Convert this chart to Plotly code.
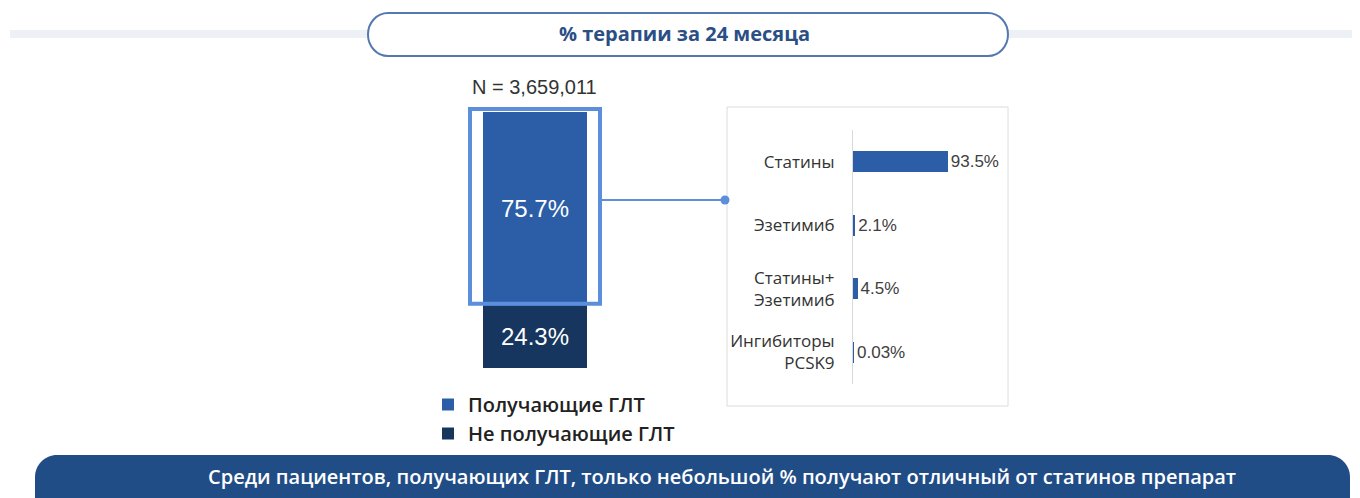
import plotly.graph_objects as go

# page body has an 8px margin: draw in a 1352x490 figure placed at (8, 8)
OFF = 8
W, H = 1360 - OFF, 498 - OFF

# ---- data ----
total_label = "N = 3,659,011"
split_names = ["Не получающие ГЛТ", "Получающие ГЛТ"]
split_values = [24.3, 75.7]
split_colors = ["#16365f", "#2b5ea7"]

therapy_cats = ["Статины", "Эзетимиб", "Статины+<br>Эзетимиб", "Ингибиторы<br>PCSK9"]
therapy_values = [93.5, 2.1, 4.5, 0.03]

title_text = "% терапии за 24 месяца"
banner_text = "Среди пациентов, получающих ГЛТ, только небольшой % получают отличный от статинов препарат"


def px(x):
    return (x - OFF) / W


def py(y):
    return 1 - (y - OFF) / H


fig = go.Figure()

# left stacked bar
for name, val, col in zip(split_names, split_values, split_colors):
    fig.add_trace(go.Bar(
        x=[0], y=[val], name=name, width=1,
        marker=dict(color=col, line=dict(width=0)),
        text=[f"{val}%"], textposition="inside", insidetextanchor="middle",
        textfont=dict(family="Liberation Sans, Arial", size=24, color="white"),
        xaxis="x", yaxis="y", hoverinfo="skip",
    ))

# right horizontal bars
fig.add_trace(go.Bar(
    y=therapy_cats, x=therapy_values, orientation="h", width=0.33,
    marker=dict(color="#2b5ea7", line=dict(width=0)),
    text=[f"{v}%" for v in therapy_values], textposition="outside",
    constraintext="none", cliponaxis=False,
    textfont=dict(family="Liberation Sans, Arial", size=17, color="#404040"),
    xaxis="x2", yaxis="y2", showlegend=False, hoverinfo="skip",
))


def path_str(segs):
    s = ""
    for cmd, ps in segs:
        s += cmd + " ".join(f"{px(a):.5f},{py(b):.5f}" for a, b in ps) + " "
    return s + "Z"


def pill_path(x0, y0, x1, y1, rx, ry):
    kx, ky = 0.5523 * rx, 0.5523 * ry
    ym = (y0 + y1) / 2
    return path_str([
        ("M", [(x0 + rx, y0)]),
        ("L", [(x1 - rx, y0)]),
        ("C", [(x1 - rx + kx, y0), (x1, ym - ky), (x1, ym)]),
        ("C", [(x1, ym + ky), (x1 - rx + kx, y1), (x1 - rx, y1)]),
        ("L", [(x0 + rx, y1)]),
        ("C", [(x0 + rx - kx, y1), (x0, ym + ky), (x0, ym)]),
        ("C", [(x0, ym - ky), (x0 + rx - kx, y0), (x0 + rx, y0)]),
    ])


def banner_path(x0, y0, x1, y1, r):
    k = 0.5523 * r
    return path_str([
        ("M", [(x0 + r, y0)]),
        ("L", [(x1 - r, y0)]),
        ("C", [(x1 - r + k, y0), (x1, y0 + r - k), (x1, y0 + r)]),
        ("L", [(x1, y1)]),
        ("L", [(x0, y1)]),
        ("L", [(x0, y0 + r)]),
        ("C", [(x0, y0 + r - k), (x0 + r - k, y0), (x0 + r, y0)]),
    ])


# left bar geometry (pixels) -> axis domains
LB_X0, LB_X1 = 483, 587
LB_Y_BOTTOM, LB_Y_TOP = 368, 112
y_dom = [py(LB_Y_BOTTOM), py(LB_Y_TOP)]


def left_y_paper(v):
    return y_dom[0] + v / 100 * (y_dom[1] - y_dom[0])


shapes = [
    # title band
    dict(type="rect", xref="paper", yref="paper", x0=px(10), x1=px(1362), y0=py(38), y1=py(30),
         fillcolor="#edf1f6", line=dict(width=0), layer="below"),
    # title pill
    dict(type="path", xref="paper", yref="paper", path=pill_path(368, 13, 1008, 56, 20, 21.5),
         fillcolor="white", line=dict(color="#5478b0", width=2), layer="above"),
    # right panel border
    dict(type="rect", xref="paper", yref="paper", x0=px(727), x1=px(1008), y0=py(406), y1=py(107),
         fillcolor="rgba(0,0,0,0)", line=dict(color="#dcdcdc", width=1), layer="below"),
    # outline around receiving segment
    dict(type="rect", xref="paper", yref="paper", x0=px(470), x1=px(600),
         y0=left_y_paper(split_values[0]) + 2 / H, y1=left_y_paper(100) + 3 / H,
         line=dict(color="#5b8edb", width=4), fillcolor="rgba(0,0,0,0)", layer="above"),
    # connector
    dict(type="line", xref="paper", yref="paper", x0=px(602), x1=px(725), y0=py(200), y1=py(200),
         line=dict(color="#5b8edb", width=2)),
    dict(type="circle", xref="paper", yref="paper", x0=px(720.5), x1=px(729.5), y0=py(204.5), y1=py(195.5),
         fillcolor="#5b8edb", line=dict(width=0)),
    # bottom banner
    dict(type="path", xref="paper", yref="paper", path=banner_path(35, 455, 1350, 540, 22),
         fillcolor="#214d87", line=dict(width=0), layer="above"),
]

annotations = [
    dict(text=title_text, xref="paper", yref="paper", x=px(684), y=py(34), showarrow=False,
         xanchor="center", yanchor="middle",
         font=dict(family="Open Sans", size=20, color="#2b4f85", weight=700)),
    dict(text=total_label, xref="paper", yref="paper", x=px(534), y=py(87), showarrow=False,
         xanchor="center", yanchor="middle",
         font=dict(family="Liberation Sans, Arial", size=20, color="#333333")),
    dict(text=banner_text, xref="paper", yref="paper", x=px(722), y=py(476), showarrow=False,
         xanchor="center", yanchor="middle",
         font=dict(family="Open Sans", size=20, color="white", weight=600)),
]

fig.update_layout(
    width=W, height=H,
    margin=dict(l=0, r=0, t=0, b=0),
    paper_bgcolor="white", plot_bgcolor="rgba(0,0,0,0)",
    barmode="stack",
    showlegend=True,
    legend=dict(x=px(428), y=py(385), xanchor="left", yanchor="top",
                traceorder="reversed", bgcolor="rgba(0,0,0,0)",
                font=dict(family="Open Sans", size=20, color="#222222", weight=600)),
    xaxis=dict(domain=[px(LB_X0), px(LB_X1)], range=[-0.5, 0.5], visible=False, fixedrange=True),
    yaxis=dict(domain=y_dom, range=[0, 100], visible=False, fixedrange=True),
    xaxis2=dict(domain=[px(853), px(1005)], range=[0, 150], visible=False, anchor="y2"),
    yaxis2=dict(domain=[py(384), py(130)], anchor="x2", type="category",
                categoryorder="array", categoryarray=therapy_cats, autorange="reversed",
                showline=True, linecolor="#d9d9d9", linewidth=1, showgrid=False,
                ticks="", ticklabelstandoff=14,
                tickfont=dict(family="Open Sans", size=17, color="#333333")),
    shapes=shapes,
    annotations=annotations,
)

fig.write_html("out.html")
